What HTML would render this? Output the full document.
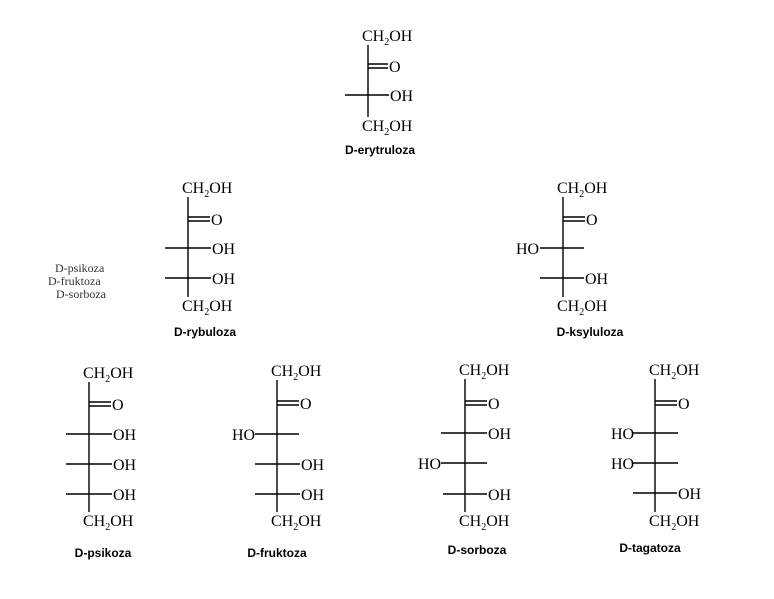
<!DOCTYPE html>
<html><head><meta charset="utf-8"><style>
html,body{margin:0;padding:0;background:#fff;}
svg{display:block}
.t{font-family:"Liberation Serif",serif;font-size:16px;fill:#000}
.s{font-size:10px}
.l{font-family:"Liberation Sans",sans-serif;font-weight:bold;font-size:12px;fill:#000}
.m{font-family:"Liberation Serif",serif;font-size:12px;fill:#333}
line{stroke:#000;stroke-width:1.4}
</style></head><body>
<svg width="774" height="599" viewBox="0 0 774 599" xmlns="http://www.w3.org/2000/svg">
<!-- erytruloza vx=368 -->
<g>
<text class="t" x="362" y="41">CH<tspan class="s" dy="4">2</tspan><tspan dy="-4">OH</tspan></text>
<line x1="368" y1="45" x2="368" y2="117"/>
<line x1="368" y1="64" x2="388" y2="64"/><line x1="368" y1="68" x2="388" y2="68"/>
<text class="t" x="389" y="72">O</text>
<line x1="345" y1="95" x2="389" y2="95"/>
<text class="t" x="390" y="101">OH</text>
<text class="t" x="362" y="131">CH<tspan class="s" dy="4">2</tspan><tspan dy="-4">OH</tspan></text>
<text class="l" x="380" y="154" text-anchor="middle">D-erytruloza</text>
</g>
<!-- rybuloza vx=188 -->
<g>
<text class="t" x="182" y="193">CH<tspan class="s" dy="4">2</tspan><tspan dy="-4">OH</tspan></text>
<line x1="188" y1="197" x2="188" y2="297"/>
<line x1="188" y1="217" x2="210" y2="217"/><line x1="188" y1="221" x2="210" y2="221"/>
<text class="t" x="211" y="225">O</text>
<line x1="165" y1="248" x2="211" y2="248"/><text class="t" x="212" y="254">OH</text>
<line x1="165" y1="278" x2="211" y2="278"/><text class="t" x="212" y="284">OH</text>
<text class="t" x="182" y="311">CH<tspan class="s" dy="4">2</tspan><tspan dy="-4">OH</tspan></text>
<text class="l" x="205" y="336" text-anchor="middle">D-rybuloza</text>
</g>
<text class="m" x="55" y="272">D-psikoza</text>
<text class="m" x="48" y="285">D-fruktoza</text>
<text class="m" x="56" y="298">D-sorboza</text>
<!-- ksyluloza vx=563 -->
<g>
<text class="t" x="557" y="193">CH<tspan class="s" dy="4">2</tspan><tspan dy="-4">OH</tspan></text>
<line x1="563" y1="197" x2="563" y2="297"/>
<line x1="563" y1="217" x2="585" y2="217"/><line x1="563" y1="221" x2="585" y2="221"/>
<text class="t" x="586" y="225">O</text>
<text class="t" x="516" y="254">HO</text><line x1="540" y1="248" x2="584" y2="248"/>
<line x1="540" y1="278" x2="584" y2="278"/><text class="t" x="585" y="284">OH</text>
<text class="t" x="557" y="311">CH<tspan class="s" dy="4">2</tspan><tspan dy="-4">OH</tspan></text>
<text class="l" x="590" y="336" text-anchor="middle">D-ksyluloza</text>
</g>
<!-- psikoza vx=89 -->
<g>
<text class="t" x="83" y="378">CH<tspan class="s" dy="4">2</tspan><tspan dy="-4">OH</tspan></text>
<line x1="89" y1="382" x2="89" y2="512"/>
<line x1="89" y1="402" x2="111" y2="402"/><line x1="89" y1="406" x2="111" y2="406"/>
<text class="t" x="112" y="410">O</text>
<line x1="66" y1="434" x2="112" y2="434"/><text class="t" x="113" y="440">OH</text>
<line x1="66" y1="464" x2="112" y2="464"/><text class="t" x="113" y="470">OH</text>
<line x1="66" y1="494" x2="112" y2="494"/><text class="t" x="113" y="500">OH</text>
<text class="t" x="83" y="526">CH<tspan class="s" dy="4">2</tspan><tspan dy="-4">OH</tspan></text>
<text class="l" x="103" y="557" text-anchor="middle">D-psikoza</text>
</g>
<!-- fruktoza vx=277 -->
<g>
<text class="t" x="271" y="376">CH<tspan class="s" dy="4">2</tspan><tspan dy="-4">OH</tspan></text>
<line x1="277" y1="380" x2="277" y2="512"/>
<line x1="277" y1="401" x2="299" y2="401"/><line x1="277" y1="405" x2="299" y2="405"/>
<text class="t" x="300" y="409">O</text>
<text class="t" x="232" y="440">HO</text><line x1="255" y1="434" x2="299" y2="434"/>
<line x1="255" y1="464" x2="300" y2="464"/><text class="t" x="301" y="470">OH</text>
<line x1="255" y1="494" x2="300" y2="494"/><text class="t" x="301" y="500">OH</text>
<text class="t" x="271" y="526">CH<tspan class="s" dy="4">2</tspan><tspan dy="-4">OH</tspan></text>
<text class="l" x="277" y="557" text-anchor="middle">D-fruktoza</text>
</g>
<!-- sorboza vx=465 -->
<g>
<text class="t" x="459" y="375">CH<tspan class="s" dy="4">2</tspan><tspan dy="-4">OH</tspan></text>
<line x1="465" y1="379" x2="465" y2="512"/>
<line x1="465" y1="401" x2="487" y2="401"/><line x1="465" y1="405" x2="487" y2="405"/>
<text class="t" x="488" y="409">O</text>
<line x1="441" y1="433" x2="487" y2="433"/><text class="t" x="488" y="439">OH</text>
<text class="t" x="418" y="469">HO</text><line x1="441" y1="463" x2="487" y2="463"/>
<line x1="443" y1="494" x2="487" y2="494"/><text class="t" x="488" y="500">OH</text>
<text class="t" x="459" y="526">CH<tspan class="s" dy="4">2</tspan><tspan dy="-4">OH</tspan></text>
<text class="l" x="477" y="554" text-anchor="middle">D-sorboza</text>
</g>
<!-- tagatoza vx=655 -->
<g>
<text class="t" x="649" y="375">CH<tspan class="s" dy="4">2</tspan><tspan dy="-4">OH</tspan></text>
<line x1="655" y1="379" x2="655" y2="512"/>
<line x1="655" y1="401" x2="677" y2="401"/><line x1="655" y1="405" x2="677" y2="405"/>
<text class="t" x="678" y="409">O</text>
<text class="t" x="611" y="439">HO</text><line x1="633" y1="433" x2="678" y2="433"/>
<text class="t" x="611" y="469">HO</text><line x1="633" y1="463" x2="678" y2="463"/>
<line x1="633" y1="493" x2="677" y2="493"/><text class="t" x="678" y="499">OH</text>
<text class="t" x="649" y="526">CH<tspan class="s" dy="4">2</tspan><tspan dy="-4">OH</tspan></text>
<text class="l" x="650" y="552" text-anchor="middle">D-tagatoza</text>
</g>
</svg>
</body></html>
